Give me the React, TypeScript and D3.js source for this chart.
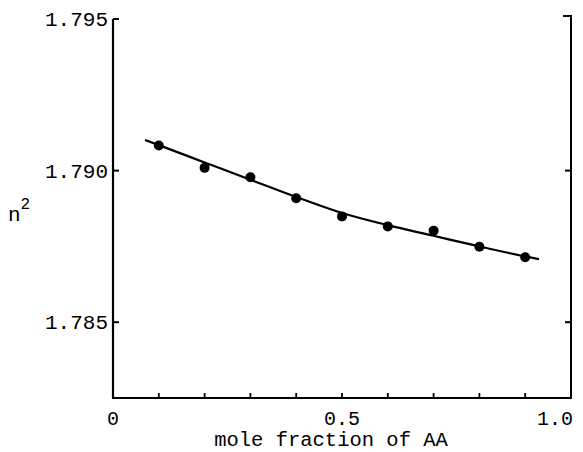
import * as d3 from 'd3'
import React, { useEffect, useRef } from 'react'

// measured points (mole fraction of AA vs n^2)
const xFrac = [0.1, 0.2, 0.3, 0.4, 0.5, 0.6, 0.7, 0.8, 0.9]
const nSq = [1.79083, 1.79009, 1.78978, 1.78909, 1.78849, 1.78816, 1.78802, 1.78749, 1.78714]

// smoothed fit curve
const fitX = [0.07, 0.1, 0.2, 0.3, 0.4, 0.5, 0.6, 0.7, 0.8, 0.9, 0.93]
const fitY = [1.79101, 1.79084, 1.79027, 1.7897, 1.78913, 1.7886, 1.7882, 1.78785, 1.7875, 1.78717, 1.78708]

const yTicks = [1.785, 1.790, 1.795]
const yTickLabels = ['1.785', '1.790', '1.795']
const xMinorTicks = [0.1, 0.2, 0.3, 0.4, 0.5, 0.6, 0.7, 0.8, 0.9]
const xTickLabels = ['0', '0.5', '1.0']
const xTickVals = [0, 0.5, 1.0]

const App = () => {
    const ref = useRef<SVGSVGElement>(null)

    useEffect(() => {
        const svg = d3.select(ref.current)
        svg.selectAll('*').remove()

        const font = 'Liberation Mono, Courier New, Courier, DejaVu Sans Mono, monospace'
        const x = d3.scaleLinear().domain([0, 1]).range([113, 571])
        const y = d3.scaleLinear().domain([1.7825, 1.795]).range([398, 19])

        const g = svg.append('g')

        // axes frame (left, bottom, right)
        g.append('line')
            .attr('x1', x(0)).attr('x2', x(0))
            .attr('y1', y(1.795)).attr('y2', y(1.7825))
            .attr('stroke', '#000').attr('stroke-width', 2.2)
        g.append('line')
            .attr('x1', x(0) - 1).attr('x2', x(1) + 1)
            .attr('y1', y(1.7825)).attr('y2', y(1.7825))
            .attr('stroke', '#000').attr('stroke-width', 2.2)
        g.append('line')
            .attr('x1', x(1)).attr('x2', x(1))
            .attr('y1', y(1.795) - 3).attr('y2', y(1.7825))
            .attr('stroke', '#000').attr('stroke-width', 2)
        // top-right stub
        g.append('line')
            .attr('x1', x(1) - 8).attr('x2', x(1) + 1)
            .attr('y1', y(1.795) - 3).attr('y2', y(1.795) - 3)
            .attr('stroke', '#000').attr('stroke-width', 2)

        // y ticks (inward, both sides)
        g.selectAll('.ytl')
            .data(yTicks)
            .enter()
            .append('line')
            .attr('x1', x(0)).attr('x2', x(0) + 6)
            .attr('y1', d => y(d)).attr('y2', d => y(d))
            .attr('stroke', '#000').attr('stroke-width', 2)
        g.selectAll('.ytr')
            .data(yTicks.slice(0, 2))
            .enter()
            .append('line')
            .attr('x1', x(1) - 6).attr('x2', x(1))
            .attr('y1', d => y(d)).attr('y2', d => y(d))
            .attr('stroke', '#000').attr('stroke-width', 2)

        g.selectAll('.ylab')
            .data(yTicks)
            .enter()
            .append('text')
            .attr('x', x(0) - 5)
            .attr('y', d => y(d) + 7)
            .attr('text-anchor', 'end')
            .attr('font-family', font)
            .attr('font-size', 21)
            .text((d, i) => yTickLabels[i])

        // x ticks (inward)
        g.selectAll('.xt')
            .data(xMinorTicks)
            .enter()
            .append('line')
            .attr('x1', d => x(d)).attr('x2', d => x(d))
            .attr('y1', y(1.7825)).attr('y2', y(1.7825) - 5)
            .attr('stroke', '#000').attr('stroke-width', 1.8)

        g.selectAll('.xlab')
            .data(xTickVals)
            .enter()
            .append('text')
            .attr('x', (d, i) => i === 2 ? x(d) + 2 : x(d))
            .attr('y', 425)
            .attr('text-anchor', (d, i) => i === 2 ? 'end' : 'middle')
            .attr('font-family', font)
            .attr('font-size', 20)
            .text((d, i) => xTickLabels[i])

        // axis titles
        g.append('text')
            .attr('x', 331).attr('y', 446)
            .attr('text-anchor', 'middle')
            .attr('font-family', font)
            .attr('font-size', 20.5)
            .text('mole fraction of AA')

        const yl = g.append('text')
            .attr('x', 8).attr('y', 221)
            .attr('font-family', font)
            .attr('font-size', 21)
        yl.append('tspan').text('n')
        yl.append('tspan').attr('dy', -12).attr('font-size', 16).text('2')

        // fit curve
        const line = d3.line<number>()
            .x(d => x(d))
            .y((d, i) => y(fitY[i]))
            .curve(d3.curveMonotoneX)
        g.append('path')
            .attr('d', line(fitX))
            .attr('fill', 'none')
            .attr('stroke', '#000')
            .attr('stroke-width', 2.2)

        // data points
        g.selectAll('.dot')
            .data(xFrac)
            .enter()
            .append('circle')
            .attr('cx', d => x(d))
            .attr('cy', (d, i) => y(nSq[i]))
            .attr('r', 5)
            .attr('fill', '#000')
    }, [])

    return (
        <svg ref={ref} width={583} height={452}
            style={{ position: 'absolute', left: 0, top: 0, background: '#fff' }} />
    )
}

export default App
